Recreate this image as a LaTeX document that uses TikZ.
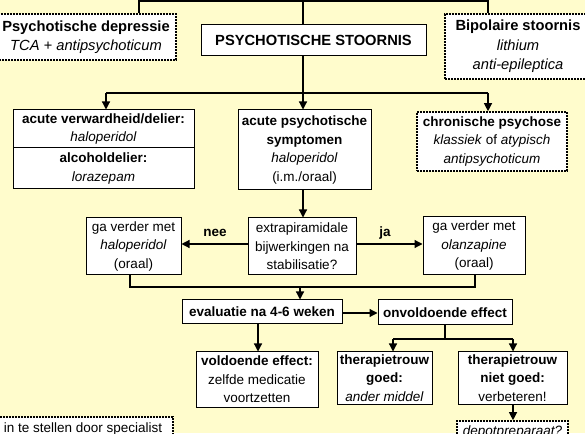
\documentclass[tikz,border=0pt]{standalone}
\usepackage{fontspec}
\setmainfont{Liberation Sans}
\usetikzlibrary{arrows.meta}
\definecolor{bgyellow}{RGB}{255,252,204}
\tikzset{
  base/.style={font=\fontsize{13.5}{18.5}\selectfont, align=center, inner sep=0pt, text=black},
  big/.style={font=\fontsize{14.7}{19.5}\selectfont},
  box/.style={base, draw=black, fill=white, line width=1pt},
  dotbox/.style={base, draw=black, fill=white, line width=1.6pt, dash pattern=on 1.6pt off 1.4pt},
  conn/.style={draw=black, line width=1.2pt},
  arr/.style={conn, -{Triangle[length=8pt,width=8pt]}},
  lbl/.style={base, font=\fontsize{13.5}{18.5}\selectfont\bfseries}
}
\begin{document}
\begin{tikzpicture}[x=1pt,y=1pt]
\useasboundingbox (0,0) rectangle (585,433);
\fill[bgyellow] (0,0) rectangle (585,433);
\clip (0,0) rectangle (585,433);

% coordinates for connector bends
\coordinate (tA) at (139,432);
\coordinate (tB) at (488,432);
\coordinate (tC) at (303,432);
\coordinate (bL) at (106,340);
\coordinate (bM) at (303,340);
\coordinate (bR) at (488,340);
\coordinate (a1) at (0,189);
\coordinate (m1) at (130,146);
\coordinate (m2) at (475,146);
\coordinate (m3) at (300,146);
\coordinate (e1) at (0,120);
\coordinate (v1) at (258,0);
\coordinate (o1) at (445,94);
\coordinate (o2) at (393,94);
\coordinate (o3) at (513,94);

% nodes
\node[dotbox, big, minimum width=180, minimum height=46] (dep) at (86,396)
  {\textbf{Psychotische depressie}\\\textit{TCA + antipsychoticum}};
\node[box, big, minimum width=225, minimum height=31] (psych) at (313.5,392.5)
  {\textbf{PSYCHOTISCHE STOORNIS}};
\node[dotbox, big, minimum width=146, minimum height=65] (bip) at (518,386.5)
  {\textbf{Bipolaire stoornis}\\\textit{lithium}\\\textit{anti-epileptica}};

\node[box, minimum width=181, minimum height=38] (left1) at (103.5,304)
  {\textbf{acute verwardheid/delier:}\\\textit{haloperidol}};
\node[box, minimum width=181, minimum height=41] (left1b) at (103.5,264.5)
  {\textbf{alcoholdelier:}\\\textit{lorazepam}};
\node[box, minimum width=133, minimum height=80] (mid) at (304.5,283)
  {\textbf{acute psychotische}\\\textbf{symptomen}\\\textit{haloperidol}\\(i.m./oraal)};
\node[dotbox, minimum width=150, minimum height=59] (chron) at (492,291.5)
  {\textbf{chronische psychose}\\\textit{klassiek} of \textit{atypisch}\\\textit{antipsychoticum}};

\node[box, minimum width=108, minimum height=57] (extra) at (302,186.5)
  {extrapiramidale\\bijwerkingen na\\stabilisatie?};
\node[box, minimum width=95, minimum height=57] (left2) at (133.5,186.5)
  {ga verder met\\\textit{haloperidol}\\(oraal)};
\node[box, minimum width=102, minimum height=58] (right2) at (474,187)
  {ga verder met\\\textit{olanzapine}\\(oraal)};
\node[lbl] (nee) at (215,200) {nee};
\node[lbl] (ja) at (385,200) {ja};

\node[box, minimum width=160, minimum height=24] (eval) at (262,121)
  {\textbf{evaluatie na 4-6 weken}};
\node[box, minimum width=134, minimum height=25] (onv) at (445,120.5)
  {\textbf{onvoldoende effect}};
\node[box, minimum width=122, minimum height=55] (vold) at (257,53.5)
  {\textbf{voldoende effect:}\\zelfde medicatie\\voortzetten};
\node[box, minimum width=95, minimum height=52] (goed) at (384.5,55)
  {\textbf{therapietrouw}\\\textbf{goed:}\\\textit{ander middel}};
\node[box, minimum width=109, minimum height=52] (niet) at (512.5,55)
  {\textbf{therapietrouw}\\\textbf{niet goed:}\\verbeteren!};
\node[dotbox, minimum width=111, minimum height=22] (depot) at (512.5,1)
  {\textit{depotpreparaat?}};
\node[dotbox, minimum width=180, minimum height=24] (spec) at (83,4)
  {in te stellen door specialist};

% connectors
\draw[conn] (dep.north -| tA) -- (tA) -- (tB) -- (bip.north -| tB);
\draw[conn] (psych.north -| tC) -- (tC);
\draw[conn] (psych.south -| bM) -- (bM);
\draw[conn] (bL) -- (bR);
\draw[arr] (bL) -- (left1.north -| bL);
\draw[arr] (bM) -- (mid.north -| bM);
\draw[arr] (bR) -- (chron.north -| bR);
\draw[arr] (mid.south -| bM) -- (extra.north -| bM);
\draw[arr] (extra.west |- a1) -- (left2.east |- a1);
\draw[arr] (extra.east |- a1) -- (right2.west |- a1);
\draw[conn] (left2.south -| m1) -- (m1) -- (m2) -- (right2.south -| m2);
\draw[arr] (m3) -- (eval.north -| m3);
\draw[arr] (eval.east |- e1) -- (onv.west |- e1);
\draw[arr] (eval.south -| v1) -- (vold.north -| v1);
\draw[conn] (onv.south -| o1) -- (o1);
\draw[conn] (o2) -- (o3);
\draw[arr] (o2) -- (goed.north -| o2);
\draw[arr] (o3) -- (niet.north -| o3);
\draw[arr] (niet.south -| o3) -- (depot.north -| o3);
\end{tikzpicture}
\end{document}
